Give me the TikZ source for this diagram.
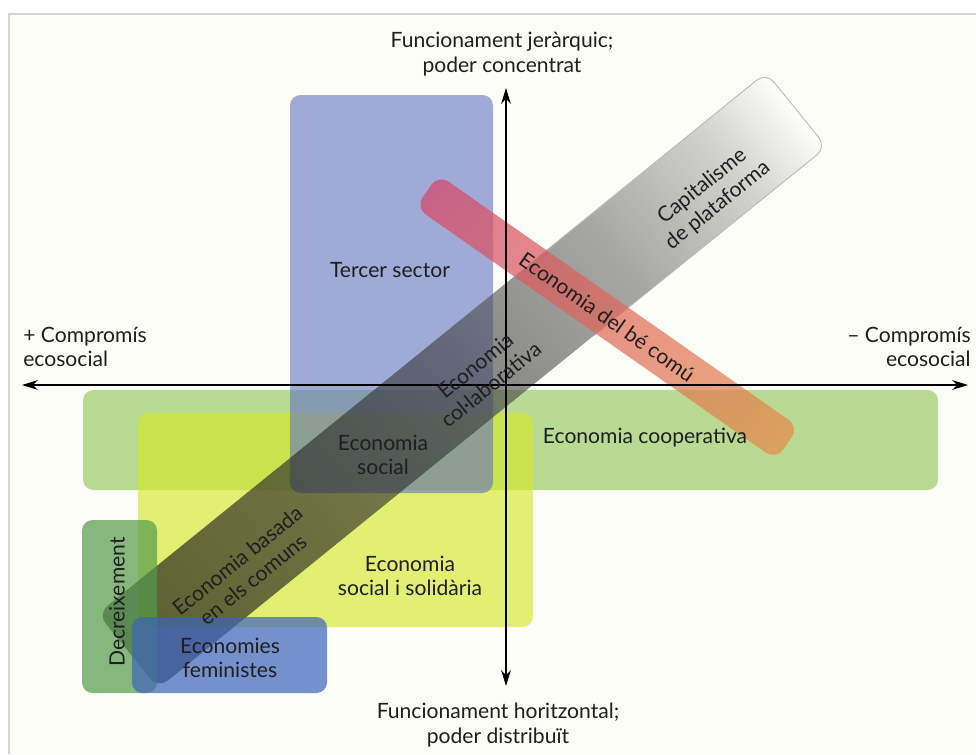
\documentclass[tikz,border=0pt]{standalone}
\usepackage{fontspec}
\setmainfont{Lato}
\usetikzlibrary{arrows.meta}

\definecolor{paper}{RGB}{252,253,247}
\definecolor{coopgreen}{RGB}{140,195,80}
\definecolor{ssolyellow}{RGB}{215,232,45}
\definecolor{tsblue}{RGB}{100,115,195}
\definecolor{decgreen}{RGB}{85,155,75}
\definecolor{femblue}{RGB}{60,100,185}
\definecolor{berose}{RGB}{215,70,105}
\definecolor{beorange}{RGB}{230,140,75}

\pgfdeclarehorizontalshading{bandshade}{100bp}{color(0bp)=(black!97); color(25bp)=(black!97); color(50bp)=(black!76); color(61.5bp)=(black!55); color(70bp)=(black!28); color(75bp)=(white); color(100bp)=(white)}

\begin{document}
\begin{tikzpicture}[x=0.02cm, y=-0.02cm, font=\fontsize{12}{14}\selectfont,
  box/.style = {rounded corners=6pt, fill opacity=0.6},
  lbl/.style = {text=black!88, align=center, inner sep=0pt},
  axis/.style = {line width=0.9pt, {Stealth[length=9pt,width=5.5pt]}-{Stealth[length=9pt,width=5.5pt]}}]

\useasboundingbox (0,0) rectangle (976,754);
\fill[white] (0,0) rectangle (976,754);
\fill[paper] (9,14) rectangle (976,754);
\draw[gray!35, line width=1pt] (9,754) -- (9,14) -- (976,14);

\fill[box, coopgreen] (83,390) rectangle (938,490);
\fill[box, ssolyellow, fill opacity=0.65] (138,413) rectangle (533,627);
\fill[box, tsblue] (290,95) rectangle (493,493);

\begin{scope}[transform canvas={shift={(128,651)}, rotate=39}]
\shade[shading=bandshade, fill opacity=0.62, rounded corners=7pt] (0,-48) rectangle (860,48);
\draw[gray!55, line width=0.5pt, rounded corners=7pt] (560,48) -- (860,48) -- (860,-48) -- (560,-48);
\end{scope}

\begin{scope}[transform canvas={shift={(427,191)}, rotate=-35}]
\shade[left color=berose, right color=beorange, fill opacity=0.72, rounded corners=7pt] (0,-20) rectangle (440,20);
\end{scope}

\fill[box, decgreen, fill opacity=0.7] (82,520) rectangle (157,693);
\fill[box, femblue, fill opacity=0.7] (132,617) rectangle (327,693);

\coordinate (w) at (22,385); \coordinate (e) at (968,385);
\coordinate (n) at (506,88); \coordinate (s) at (506,686);
\draw[axis] (w) -- (e);
\draw[axis] (n) -- (s);

\node[lbl] (top) at (502,54) {Funcionament jeràrquic;\\poder concentrat};
\node[lbl] (bot) at (498,725) {Funcionament horitzontal;\\poder distribuït};
\node[lbl, align=left, anchor=west] (plus) at (23,347) {+ Compromís\\ecosocial};
\node[lbl, align=right, anchor=east] (minus) at (971,347) {– Compromís\\ecosocial};

\node[lbl] (ts) at (390,270) {Tercer sector};
\node[lbl] (es) at (383,455) {Economia\\social};
\node[lbl] (coop) at (645,438) {Economia cooperativa};
\node[lbl] (ess) at (410,576) {Economia\\social i solidària};
\node[lbl, rotate=90] (dec) at (117,602) {Decreixement};
\node[lbl] (fem) at (230,658) {Economies\\feministes};

\node[lbl, rotate=39] (comuns) at (245,570) {Economia basada\\en els comuns};
\node[lbl, rotate=39] (colab) at (483,375) {Economia\\col·laborativa};
\node[lbl, rotate=39] (platf) at (710,196) {Capitalisme\\de plataforma};
\node[lbl, rotate=-35] (becomu) at (607,317) {Economia del bé comú};

\end{tikzpicture}
\end{document}
